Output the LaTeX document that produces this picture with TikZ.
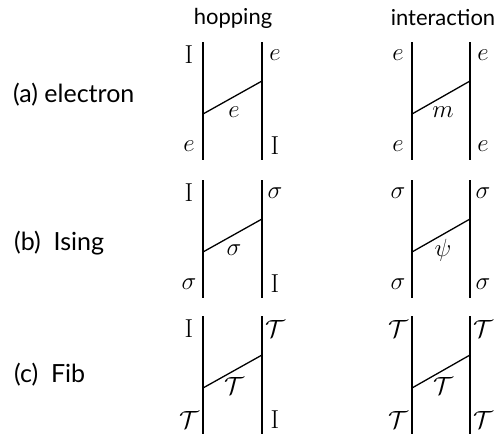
\documentclass[tikz,border=0pt]{standalone}
\usepackage{fontspec}
\setsansfont{Lato}
\begin{document}
\begin{tikzpicture}[x=1pt,y=-1pt,
  wire/.style={line width=1.3pt},
  lab/.style={inner sep=0pt,font=\fontsize{26}{28}\selectfont},
  hdr/.style={inner sep=0pt,font=\sffamily\fontsize{22}{24}\selectfont},
  rowlab/.style={inner sep=0pt,anchor=west,font=\sffamily\fontsize{25}{27}\selectfont}]
\useasboundingbox (0,0) rectangle (500,434);
\newcommand\mypanel[9]{%
  % #1 name, #2 xL, #3 xR, #4 top, #5 TL, #6 TR, #7 BL, #8 BR, #9 mid
  \coordinate (#1-lt) at (#2,#4);
  \coordinate (#1-lb) at (#2,#4+118);
  \coordinate (#1-rt) at (#3,#4);
  \coordinate (#1-rb) at (#3,#4+118);
  \coordinate (#1-dl) at (#2,#4+72);
  \coordinate (#1-dr) at (#3,#4+39);
  \draw[wire] (#1-lt) -- (#1-lb);
  \draw[wire] (#1-rt) -- (#1-rb);
  \draw[wire] (#1-dl) -- (#1-dr);
  \node[lab] (#1-tl) at (#2-14,#4+13) {#5};
  \node[lab] (#1-tr) at (#3+13,#4+13) {#6};
  \node[lab] (#1-bl) at (#2-14,#4+104) {#7};
  \node[lab] (#1-br) at (#3+13,#4+104) {#8};
  \node[lab] (#1-m) at (#2+31,#4+70) {#9};
}
\node[hdr] (h1) at (233,18) {hopping};
\node[hdr] (h2) at (443,18) {interaction};
\node[rowlab] (ra) at (13,95) {(a)\ electron};
\node[rowlab] (rb) at (14,243) {(b)\ \ Ising};
\node[rowlab] (rc) at (14,375) {(c)\ \ Fib};
\mypanel{a1}{203}{262}{42}{$\mathrm{I}$}{$e$}{$e$}{$\mathrm{I}$}{$e$}
\mypanel{a2}{412}{470}{42}{$e$}{$e$}{$e$}{$e$}{$m$}
\mypanel{b1}{203}{262}{180}{$\mathrm{I}$}{$\sigma$}{$\sigma$}{$\mathrm{I}$}{$\sigma$}
\mypanel{b2}{412}{470}{180}{$\sigma$}{$\sigma$}{$\sigma$}{$\sigma$}{$\psi$}
\mypanel{c1}{203}{262}{316}{$\mathrm{I}$}{$\mathcal{T}$}{$\mathcal{T}$}{$\mathrm{I}$}{$\mathcal{T}$}
\mypanel{c2}{412}{470}{316}{$\mathcal{T}$}{$\mathcal{T}$}{$\mathcal{T}$}{$\mathcal{T}$}{$\mathcal{T}$}
\end{tikzpicture}
\end{document}
